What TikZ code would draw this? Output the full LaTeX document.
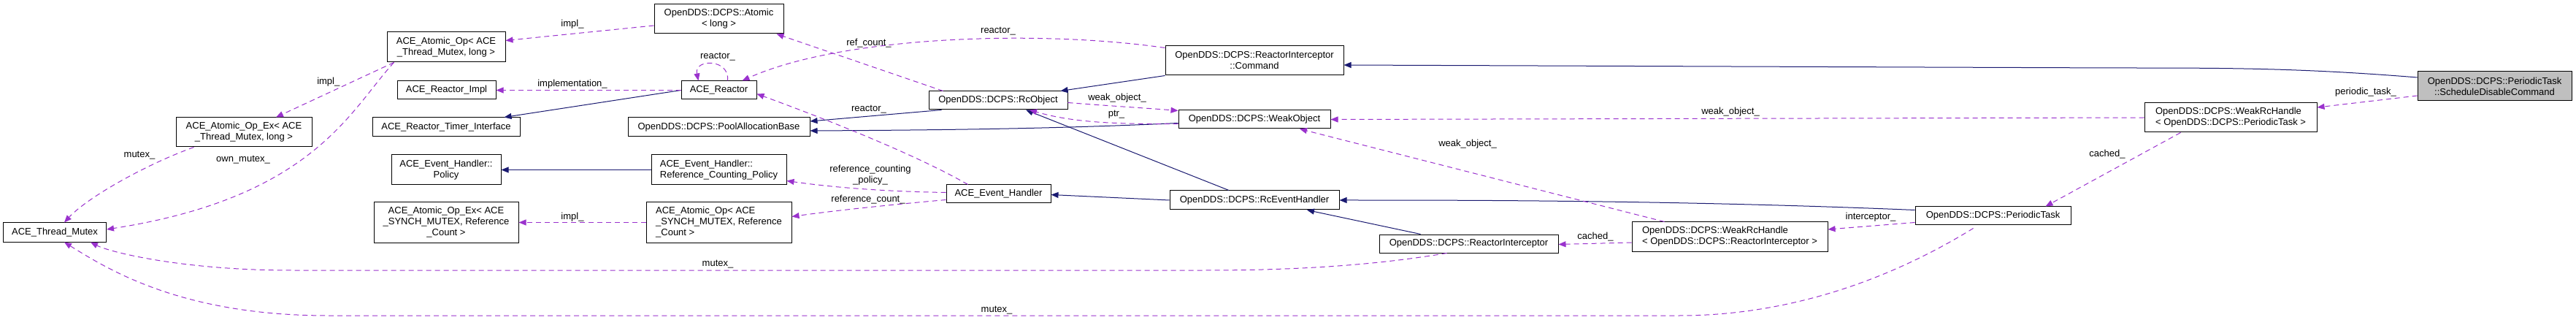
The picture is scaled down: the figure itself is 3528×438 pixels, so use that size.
\documentclass[tikz,border=0pt]{standalone}
\usepackage{fontspec}
\setmainfont{Liberation Sans}
\usetikzlibrary{arrows.meta,calc}
\definecolor{navy}{HTML}{191970}
\definecolor{purp}{HTML}{9A32CD}
\begin{document}
\begin{tikzpicture}[x=1pt,y=-1pt,
  every node/.style={font=\fontsize{13}{15}\selectfont},
  box/.style={draw=black,line width=1pt,fill=white,inner sep=0pt,align=center},
  lbox/.style={box,align=left},
  inh/.style={draw=navy,line width=1pt,-{Triangle[length=10pt,width=8pt]}},
  dep/.style={draw=purp,line width=1pt,dash pattern=on 7pt off 5pt,-{Triangle[length=10pt,width=8pt]}},
  lab/.style={inner sep=1pt}]
\useasboundingbox (0,0) rectangle (3528,438);
% nodes
\node[box,minimum width=141,minimum height=26] (tm) at (75,318) {ACE\_Thread\_Mutex};
\node[box,minimum width=186,minimum height=40] (aoex1) at (334,181) {ACE\_Atomic\_Op\_Ex< ACE\\\_Thread\_Mutex, long >};
\node[box,minimum width=162,minimum height=41] (aop1) at (611,64.5) {ACE\_Atomic\_Op< ACE\\\_Thread\_Mutex, long >};
\node[box,minimum width=135,minimum height=25] (rimpl) at (611.5,123.5) {ACE\_Reactor\_Impl};
\node[box,minimum width=202,minimum height=26] (rti) at (611,174) {ACE\_Reactor\_Timer\_Interface};
\node[box,minimum width=150,minimum height=41] (ehp) at (611,232.5) {ACE\_Event\_Handler::\\Policy};
\node[box,minimum width=198,minimum height=55] (aoex2) at (611,304.5) {ACE\_Atomic\_Op\_Ex< ACE\\\_SYNCH\_MUTEX, Reference\\\_Count >};
\node[box,minimum width=177,minimum height=40] (atom) at (984.5,26) {OpenDDS::DCPS::Atomic\\< long >};
\node[box,minimum width=103,minimum height=25] (reac) at (984.5,123.5) {ACE\_Reactor};
\node[box,minimum width=249,minimum height=26] (pool) at (984.5,174) {OpenDDS::DCPS::PoolAllocationBase};
\node[lbox,minimum width=185,minimum height=41] (rcp) at (984.5,232.5) {ACE\_Event\_Handler::\\Reference\_Counting\_Policy};
\node[lbox,minimum width=199,minimum height=55] (aop2) at (984.5,304.5) {ACE\_Atomic\_Op< ACE\\\_SYNCH\_MUTEX, Reference\\\_Count >};
\node[box,minimum width=190,minimum height=25] (rco) at (1367,137.5) {OpenDDS::DCPS::RcObject};
\node[box,minimum width=244,minimum height=40] (cmd) at (1718,83) {OpenDDS::DCPS::ReactorInterceptor\\::Command};
\node[box,minimum width=208,minimum height=25] (weak) at (1718,163.5) {OpenDDS::DCPS::WeakObject};
\node[box,minimum width=143,minimum height=25] (aeh) at (1367.5,265.5) {ACE\_Event\_Handler};
\node[box,minimum width=232,minimum height=26] (rceh) at (1718,274) {OpenDDS::DCPS::RcEventHandler};
\node[box,minimum width=245,minimum height=25] (ri) at (2011.5,333.5) {OpenDDS::DCPS::ReactorInterceptor};
\node[lbox,minimum width=268,minimum height=40] (wrri) at (2369,324) {OpenDDS::DCPS::WeakRcHandle\\< OpenDDS::DCPS::ReactorInterceptor >};
\node[box,minimum width=213,minimum height=25] (pt) at (2729.5,295.5) {OpenDDS::DCPS::PeriodicTask};
\node[lbox,minimum width=236,minimum height=40] (wrpt) at (3055,161) {OpenDDS::DCPS::WeakRcHandle\\< OpenDDS::DCPS::PeriodicTask >};
\node[box,fill=black!25,minimum width=211,minimum height=40] (sdc) at (3416.5,118) {OpenDDS::DCPS::PeriodicTask\\::ScheduleDisableCommand};
% inheritance
\draw[inh] (reac.west) -- ($(rti.north east)+(-22,0)$);
\draw[inh] (rcp.west) -- (ehp.east);
\draw[inh] ($(rco.south west)+(18,0)$) -- ($(pool.east)+(0,-8)$);
\draw[inh] ($(weak.west)+(0,5)$) .. controls (1450,176) and (1300,178) .. ($(pool.east)+(0,5)$);
\draw[inh] ($(cmd.south west)$) -- ($(rco.north east)+(-10,0)$);
\draw[inh] ($(rceh.north)+(-35,0)$) -- ($(rco.south)+(38,0)$);
\draw[inh] (rceh.west) -- ($(aeh.east)+(0,1)$);
\draw[inh] ($(ri.north)+(-66,0)$) -- ($(rceh.south)+(72,0)$);
\draw[inh] ($(pt.west)+(0,-8)$) .. controls (2300,274) and (2000,274) .. (rceh.east);
\draw[inh] ($(sdc.west)+(0,-12)$) .. controls (3150,93) and (3050,93) .. (2900,93) -- ($(cmd.east)+(0,6)$);
% dependencies
\draw[dep] ($(aop1.south west)+(10,0)$) -- ($(aoex1.north)+(44,0)$) node[lab,pos=0.45,above left]{impl\_};
\draw[dep] ($(aop1.south west)+(10,0)$) .. controls (480,150) and (430,270) .. ($(tm.east)+(0,-4)$);
\node[lab] (l1) at (333,219) {own\_mutex\_};
\draw[dep] ($(aoex1.south west)+(25,0)$) .. controls (200,225) and (120,270) .. ($(tm.north)+(13,0)$);
\node[lab] (l2) at (191,213) {mutex\_};
\draw[dep] ($(atom.west)+(0,9)$) -- ($(aop1.east)+(0,-9)$);
\node[lab] (l3) at (784,33) {impl\_};
\draw[dep] (reac.west) -- (rimpl.east);
\node[lab] (l4) at (784,115) {implementation\_};
\draw[dep] ($(reac.north)+(12,0)$) .. controls (1000,80) and (950,80) .. ($(reac.north)+(-28,0)$);
\node[lab] (l5) at (983,78) {reactor\_};
\draw[dep] ($(cmd.north west)+(0,3)$) .. controls (1420,40) and (1150,50) .. ($(reac.north east)+(-20,0)$);
\node[lab] (l6) at (1367,43) {reactor\_};
\draw[dep] ($(rco.north west)+(20,0)$) -- ($(atom.south east)+(-10,0)$);
\node[lab] (l7) at (1190,59) {ref\_count\_};
\draw[dep] ($(aeh.north west)+(30,0)$) .. controls (1260,215) and (1150,170) .. ($(reac.east)+(0,5)$);
\node[lab] (l8) at (1190,150) {reactor\_};
\draw[dep] ($(aeh.west)+(0,-2)$) .. controls (1200,262) and (1130,255) .. ($(rcp.east)+(0,15)$);
\node[lab,align=center] (l9) at (1192,240) {reference\_counting\\\_policy\_};
\draw[dep] ($(aeh.west)+(0,8)$) .. controls (1200,282) and (1130,290) .. ($(aop2.east)+(0,-8)$);
\node[lab] (l10) at (1189,273) {reference\_count\_};
\draw[dep] (aop2.west) -- (aoex2.east);
\node[lab] (l11) at (784,297) {impl\_};
\draw[dep] ($(rco.east)+(0,3)$) .. controls (1520,145) and (1570,148) .. ($(weak.west)+(0,-12)$);
\node[lab] (l12) at (1530,134) {weak\_object\_};
\draw[dep] ($(weak.west)+(0,6)$) .. controls (1530,170) and (1470,168) .. ($(rco.south)+(43,0)$);
\node[lab] (l13) at (1529,157) {ptr\_};
\draw[dep] (wrpt.west) -- (weak.east);
\node[lab] (l14) at (2370,153) {weak\_object\_};
\draw[dep] ($(wrri.north west)+(45,0)$) -- ($(weak.south)+(62,0)$);
\node[lab] (l15) at (2010,197) {weak\_object\_};
\draw[dep] ($(wrri.west)+(0,8)$) -- ($(ri.east)+(0,1)$);
\node[lab] (l16) at (2185,324) {cached\_};
\draw[dep] ($(pt.west)+(0,9)$) -- ($(wrri.east)+(0,-10)$);
\node[lab] (l17) at (2562,297) {interceptor\_};
\draw[dep] ($(pt.south)+(-27,4)$) .. controls (2560,400) and (2420,432) .. (2300,432) -- (450,432) .. controls (250,432) and (150,370) .. ($(tm.south)+(13,0)$);
\node[lab] (l18) at (1365,425) {mutex\_};
\draw[dep] ($(ri.south)+(-30,0)$) .. controls (1900,360) and (1800,370) .. (1650,370) -- (400,370) .. controls (250,370) and (150,345) .. ($(tm.south east)+(-22,0)$);
\node[lab] (l19) at (983,362) {mutex\_};
\draw[dep] ($(wrpt.south west)+(50,0)$) -- ($(pt.north east)+(-35,0)$);
\node[lab] (l20) at (2886,211) {cached\_};
\draw[dep] ($(sdc.west)+(0,13)$) -- ($(wrpt.east)+(0,-14)$);
\node[lab] (l21) at (3240,126) {periodic\_task\_};
\end{tikzpicture}
\end{document}
